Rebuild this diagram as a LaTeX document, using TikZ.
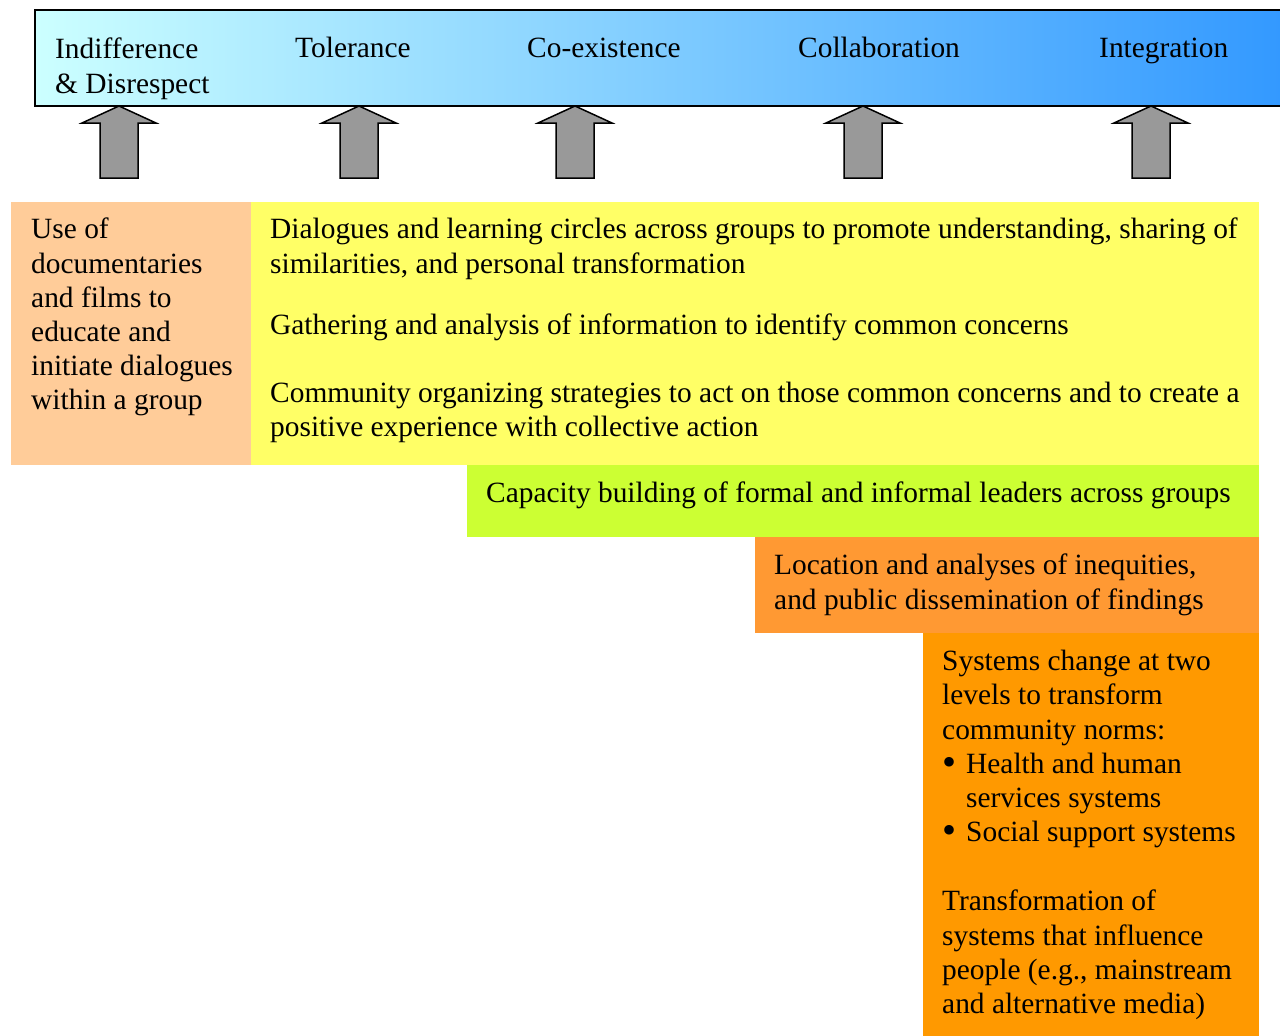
\documentclass[tikz,border=0pt]{standalone}
\usepackage{fontspec}
\setmainfont{Liberation Serif}
\definecolor{paleaqua}{HTML}{CCFFFF}
\definecolor{skyblue}{HTML}{3399FF}
\definecolor{arrowgray}{HTML}{999999}
\definecolor{peach}{HTML}{FFCC99}
\definecolor{lemon}{HTML}{FFFF66}
\definecolor{lime}{HTML}{CCFF33}
\definecolor{tangerine}{HTML}{FF9933}
\definecolor{amber}{HTML}{FF9900}
\newcommand{\bul}{\makebox[24pt][l]{\raisebox{-2pt}{\fontsize{40}{34}\selectfont\textbullet}}}

\begin{document}
\begin{tikzpicture}[x=1pt,y=-1pt,font=\fontsize{29.4}{34.2}\selectfont,lbl/.style={anchor=north west,inner sep=0pt,align=left,execute at begin node=\strut}]
\useasboundingbox (0,0) rectangle (1280,1036);
% stage bar
\shade[left color=paleaqua,right color=skyblue] (35,10) rectangle (1282,106);
\draw[line width=2pt] (1282,10)--(35,10)--(35,106)--(1282,106);
\node[lbl] (indiff) at (55,38){Indifference\\\& Disrespect};
\node[lbl] (toler) at (295,33){Tolerance};
\node[lbl] (coexist) at (527,33){Co-existence};
\node[lbl] (collab) at (798,33){Collaboration};
\node[lbl] (integ) at (1099,33){Integration};
\foreach \c in {119,359,575,863,1151}{\draw[fill=arrowgray,line width=1.5pt,line join=miter] (\c,106)--(\c+37,123)--(\c+19,123)--(\c+19,178)--(\c-19,178)--(\c-19,123)--(\c-37,123)--cycle;}
% strategy blocks
\fill[peach] (11,202) rectangle (251,465);
\fill[lemon] (251,202) rectangle (1259,465);
\fill[lime] (467,465) rectangle (1259,537);
\fill[tangerine] (755,537) rectangle (1259,633);
\fill[amber] (923,633) rectangle (1259,1036);
\node[lbl] (films) at (31,218){Use of\\documentaries\\and films to\\educate and\\initiate dialogues\\within a group};
\node[lbl] (dialogue) at (270,218){Dialogues and learning circles across groups to promote understanding, sharing of\\similarities, and personal transformation};
\node[lbl] (gather) at (270,310){Gathering and analysis of information to identify common concerns};
\node[lbl] (organize) at (270,382){Community organizing strategies to act on those common concerns and to create a\\positive experience with collective action};
\node[lbl] (capacity) at (486,478){Capacity building of formal and informal leaders across groups};
\node[lbl] (inequity) at (774,554){Location and analyses of inequities,\\and public dissemination of findings};
\node[lbl] (systems) at (942,650){Systems change at two\\levels to transform\\community norms:\\\bul Health and human\\\hspace*{24pt}services systems\\\bul Social support systems\\[35pt]Transformation of\\systems that influence\\people (e.g., mainstream\\and alternative media)};
\end{tikzpicture}
\end{document}
